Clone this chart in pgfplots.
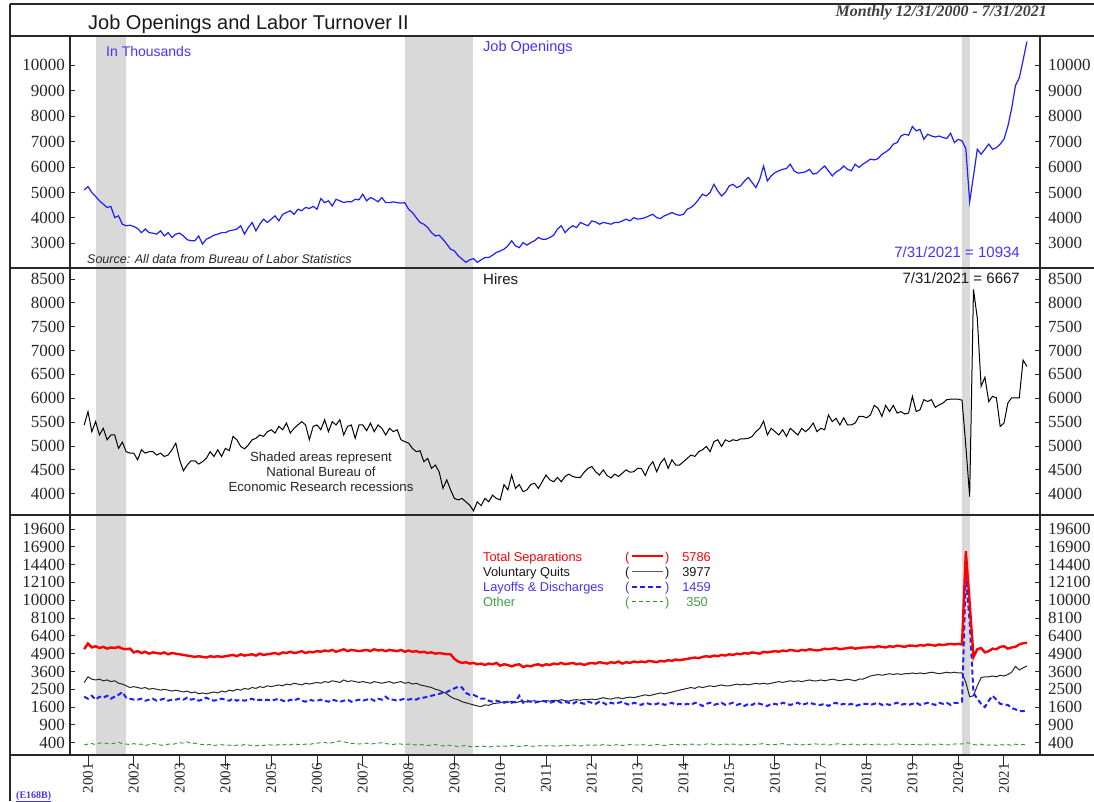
\documentclass[border=0pt]{standalone}
\usepackage{pgfplots}
\pgfplotsset{compat=1.18}
\usepackage{pgfplotstable}
\usepackage{fontspec}
\setmainfont{Liberation Serif}
\newfontfamily\arial{Liberation Sans}
\definecolor{jblue}{RGB}{30,30,255}
\definecolor{tblue}{RGB}{70,50,255}
\definecolor{jgreen}{RGB}{40,150,40}
\definecolor{tgreen}{RGB}{60,160,60}
\definecolor{recgray}{RGB}{217,217,217}
\definecolor{frame}{RGB}{40,40,40}

\pgfplotstableread{
yr mo jo hi ts qu ld ot
2000 12 5100 5440 5260 2890 2100 350
2001 1 5230 5720 5730 3250 2000 370
2001 2 5000 5300 5400 3100 2150 380
2001 3 4840 5510 5500 3050 1950 360
2001 4 4670 5230 5350 3100 2100 390
2001 5 4540 5370 5450 3000 2050 400
2001 6 4410 5130 5300 3050 2150 380
2001 7 4450 5230 5400 2950 2000 370
2001 8 4010 5230 5350 3000 2100 390
2001 9 4080 4950 5450 2850 2200 410
2001 10 3750 5080 5300 2800 2350 380
2001 11 3690 4880 5250 2700 2050 370
2001 12 3710 4850 5300 2600 2000 360
2002 1 3660 4850 5000 2650 1950 380
2002 2 3580 4710 5100 2600 1950 360
2002 3 3420 4920 4950 2550 2000 370
2002 4 3560 4850 5050 2600 1900 340
2002 5 3420 4880 4900 2500 1950 360
2002 6 3400 4880 5000 2550 2000 380
2002 7 3360 4810 4950 2500 1900 370
2002 8 3490 4850 4900 2450 1950 350
2002 9 3290 4780 5000 2500 2000 340
2002 10 3420 4810 4850 2450 1900 370
2002 11 3230 4920 4950 2400 1950 360
2002 12 3360 5060 4900 2450 1950 380
2003 1 3400 4710 4850 2400 2000 400
2003 2 3290 4480 4800 2350 1950 390
2003 3 3140 4600 4750 2400 2050 420
2003 4 3100 4690 4700 2300 1950 380
2003 5 3100 4690 4650 2350 2000 390
2003 6 3290 4620 4700 2250 1900 370
2003 7 2970 4670 4650 2300 1950 360
2003 8 3160 4740 4600 2250 2050 350
2003 9 3230 4880 4700 2300 1950 360
2003 10 3320 4780 4650 2350 1900 340
2003 11 3360 4920 4700 2300 1950 350
2003 12 3420 4780 4650 2400 2000 360
2004 1 3420 4950 4700 2350 1950 340
2004 2 3490 4900 4750 2450 1900 350
2004 3 3520 5200 4800 2400 2000 330
2004 4 3560 5130 4700 2500 1900 350
2004 5 3690 4990 4850 2450 1950 340
2004 6 3360 4940 4750 2550 1900 360
2004 7 3620 5020 4800 2500 1950 350
2004 8 3820 5130 4850 2600 2000 340
2004 9 3490 5160 4750 2550 1900 330
2004 10 3750 5230 4900 2650 1950 350
2004 11 3950 5200 4800 2600 1900 340
2004 12 3820 5300 4850 2700 1950 360
2005 1 3950 5340 4900 2650 1900 350
2005 2 4080 5270 4950 2700 1950 340
2005 3 3880 5410 4850 2750 2000 360
2005 4 4140 5340 5000 2700 1900 350
2005 5 4210 5480 4950 2800 1850 370
2005 6 4280 5270 5050 2750 1950 350
2005 7 4140 5370 4950 2850 1900 380
2005 8 4340 5440 5000 2800 2000 360
2005 9 4280 5510 5100 2750 1900 350
2005 10 4410 5440 4950 2850 1850 370
2005 11 4370 5130 5050 2800 1950 360
2005 12 4450 5410 5000 2850 1900 380
2006 1 4340 5440 5100 2900 1900 390
2006 2 4760 5340 5050 2850 1950 400
2006 3 4600 5550 5150 2950 1900 410
2006 4 4670 5300 5100 2900 1850 380
2006 5 4470 5510 5200 3000 1950 400
2006 6 4730 5440 5050 2950 1900 420
2006 7 4670 5550 5150 2900 1850 440
2006 8 4600 5230 5250 3050 1900 420
2006 9 4640 5410 5100 2950 1950 400
2006 10 4630 5440 5200 3000 1850 380
2006 11 4730 5160 5150 2950 1900 390
2006 12 4710 5440 5100 2900 1950 370
2007 1 4930 5440 5150 2950 1900 380
2007 2 4670 5320 5200 2900 1950 390
2007 3 4800 5480 5100 2850 2000 370
2007 4 4730 5300 5250 2950 1900 380
2007 5 4630 5440 5150 2900 2000 390
2007 6 4800 5370 5200 2850 1950 400
2007 7 4600 5230 5100 2900 2100 380
2007 8 4600 5370 5200 2950 1950 370
2007 9 4630 5300 5150 2850 1950 360
2007 10 4600 5340 5100 2900 1900 380
2007 11 4580 5130 5200 2950 1950 370
2007 12 4600 5090 5050 2850 2000 360
2008 1 4340 5060 5150 2900 1950 370
2008 2 4210 4950 5050 2800 2000 360
2008 3 4010 4880 5100 2850 1950 350
2008 4 3820 4900 5000 2750 2050 360
2008 5 3750 4670 5050 2700 2050 350
2008 6 3620 4740 4950 2650 2100 340
2008 7 3420 4530 5000 2600 2150 350
2008 8 3290 4600 4900 2500 2200 360
2008 9 3320 4460 4950 2450 2250 340
2008 10 3160 4110 4900 2350 2300 330
2008 11 2970 4290 4850 2250 2350 350
2008 12 2770 4080 4850 2100 2450 340
2009 1 2700 3900 4500 2000 2550 330
2009 2 2510 3870 4300 1950 2650 320
2009 3 2380 3900 4200 1850 2600 330
2009 4 2250 3830 4250 1800 2300 340
2009 5 2350 3760 4150 1750 2200 320
2009 6 2400 3640 4200 1700 2200 310
2009 7 2250 3830 4100 1650 2100 320
2009 8 2350 3750 4150 1620 2000 330
2009 9 2440 3900 4050 1700 2000 320
2009 10 2440 3830 4150 1680 1900 310
2009 11 2530 3970 4100 1750 1850 320
2009 12 2640 3900 4200 1780 1900 330
2010 1 2700 3870 4000 1800 1850 320
2010 2 2770 4190 4100 1850 1800 330
2010 3 2900 4080 4050 1820 1850 320
2010 4 3100 4390 3950 1870 1800 340
2010 5 2900 4110 4050 1800 1850 330
2010 6 2830 4190 4100 1850 2150 320
2010 7 3030 4040 3900 1880 1800 330
2010 8 2930 4080 4000 1830 1900 340
2010 9 3030 4190 3950 1870 1850 330
2010 10 3100 4220 4050 1900 1800 320
2010 11 3230 4110 4100 1850 1850 330
2010 12 3160 4250 4000 1880 1900 340
2011 1 3160 4390 4100 1900 1850 330
2011 2 3230 4290 4050 1880 1800 340
2011 3 3320 4250 4150 1920 1850 330
2011 4 3560 4340 4100 1900 1900 320
2011 5 3690 4250 4200 1950 1800 340
2011 6 3420 4360 4100 1900 1850 330
2011 7 3580 4410 4150 1880 1800 340
2011 8 3690 4360 4200 1930 1750 350
2011 9 3620 4340 4100 1950 1850 340
2011 10 3820 4340 4150 1920 1800 330
2011 11 3750 4450 4050 1970 1750 340
2011 12 3690 4530 4150 1950 1850 350
2012 1 3880 4570 4200 1980 1800 340
2012 2 3840 4460 4150 1950 1750 350
2012 3 3750 4390 4250 2000 1850 340
2012 4 3820 4500 4200 2050 1800 360
2012 5 3790 4380 4150 2000 1700 350
2012 6 3750 4330 4250 1980 1800 340
2012 7 3820 4410 4200 2030 1750 350
2012 8 3820 4360 4300 2050 1800 360
2012 9 3880 4430 4150 2000 1850 340
2012 10 3950 4500 4250 2050 1750 350
2012 11 3880 4450 4200 2080 1700 360
2012 12 4010 4460 4300 2050 1800 350
2013 1 3950 4530 4250 2100 1750 350
2013 2 3970 4530 4300 2150 1700 360
2013 3 4010 4380 4250 2200 1800 350
2013 4 4080 4570 4350 2150 1750 340
2013 5 4140 4670 4300 2200 1700 350
2013 6 4010 4460 4250 2250 1750 360
2013 7 3970 4640 4350 2300 1800 350
2013 8 4080 4740 4300 2250 1700 340
2013 9 4140 4530 4400 2300 1750 350
2013 10 4210 4710 4350 2350 1800 360
2013 11 4140 4600 4450 2400 1700 370
2013 12 4100 4600 4400 2450 1750 350
2014 1 4140 4670 4450 2500 1700 360
2014 2 4340 4740 4500 2550 1750 350
2014 3 4410 4810 4550 2600 1700 370
2014 4 4540 4780 4600 2550 1800 360
2014 5 4730 4880 4550 2650 1750 350
2014 6 4930 4920 4650 2600 1650 360
2014 7 4860 4990 4700 2650 1750 370
2014 8 5000 4880 4650 2700 1800 380
2014 9 5320 5090 4750 2650 1700 360
2014 10 5060 5130 4700 2700 1750 350
2014 11 4860 4990 4800 2750 1800 360
2014 12 5000 5130 4750 2700 1700 370
2015 1 5260 5090 4850 2700 1750 360
2015 2 5320 5130 4800 2750 1800 370
2015 3 5190 5110 4900 2800 1700 360
2015 4 5260 5150 4850 2750 1750 350
2015 5 5450 5150 4950 2800 1650 370
2015 6 5590 5160 4900 2750 1750 360
2015 7 5390 5200 5000 2800 1700 350
2015 8 5190 5300 4950 2850 1800 360
2015 9 5520 5370 4900 2800 1750 370
2015 10 6040 5520 5050 2850 1700 380
2015 11 5450 5230 5000 2800 1650 360
2015 12 5650 5370 5050 2850 1750 350
2016 1 5780 5300 5100 2900 1750 360
2016 2 5850 5230 5050 2950 1700 370
2016 3 5910 5340 5150 2900 1800 380
2016 4 5940 5200 5100 2950 1750 360
2016 5 6110 5370 5200 3000 1700 350
2016 6 5850 5300 5150 2950 1750 370
2016 7 5760 5230 5100 3000 1800 360
2016 8 5780 5370 5200 2950 1700 350
2016 9 5810 5300 5150 3000 1750 370
2016 10 5910 5370 5250 3050 1800 360
2016 11 5720 5480 5200 3000 1750 380
2016 12 5760 5300 5150 3000 1700 370
2017 1 5910 5370 5200 3050 1700 360
2017 2 6040 5340 5300 3000 1750 370
2017 3 5850 5650 5250 3050 1650 350
2017 4 5650 5510 5300 3100 1750 360
2017 5 5810 5580 5350 3050 1800 370
2017 6 5890 5440 5250 3000 1700 380
2017 7 6040 5590 5300 3050 1750 360
2017 8 5910 5440 5350 3100 1700 350
2017 9 5850 5440 5400 3050 1750 370
2017 10 6110 5480 5300 3000 1650 360
2017 11 5980 5620 5350 3100 1700 350
2017 12 6110 5620 5400 3100 1750 360
2018 1 6200 5590 5400 3200 1750 370
2018 2 6310 5650 5450 3300 1700 360
2018 3 6280 5850 5400 3350 1750 350
2018 4 6330 5790 5500 3400 1800 370
2018 5 6500 5620 5450 3350 1700 360
2018 6 6590 5850 5400 3400 1750 350
2018 7 6700 5720 5500 3450 1700 360
2018 8 6900 5850 5450 3400 1750 370
2018 9 6960 5690 5550 3450 1800 380
2018 10 7220 5720 5500 3400 1700 360
2018 11 7290 5670 5450 3450 1750 350
2018 12 7250 5690 5550 3450 1700 370
2019 1 7590 6040 5550 3500 1750 360
2019 2 7420 5720 5500 3450 1800 370
2019 3 7480 5760 5600 3500 1700 350
2019 4 7090 5970 5550 3450 1750 360
2019 5 7290 5930 5650 3500 1800 370
2019 6 7220 5970 5600 3550 1750 360
2019 7 7180 5810 5550 3500 1700 350
2019 8 7220 5860 5650 3450 1800 370
2019 9 7160 5900 5600 3500 1750 360
2019 10 7120 5970 5650 3550 1800 350
2019 11 7330 5980 5700 3500 1700 360
2019 12 6960 5980 5650 3550 1800 370
2020 1 7090 5980 5700 3500 1800 380
2020 2 7030 5960 5650 3500 1850 370
2020 3 6720 5000 16250 2900 13150 400
2020 4 4630 3940 9700 2100 7700 390
2020 5 5650 8280 4650 2150 2300 360
2020 6 6700 7680 5250 2700 1990 350
2020 7 6500 6250 5350 3200 1750 370
2020 8 6700 6440 5000 3250 1600 340
2020 9 6900 5930 5100 3250 1900 350
2020 10 6700 6040 5300 3300 2150 360
2020 11 6760 6010 5250 3250 1950 340
2020 12 6900 5410 5450 3350 1750 360
2021 1 7100 5480 5500 3300 1700 350
2021 2 7600 5900 5300 3400 1700 360
2021 3 8300 6010 5400 3550 1560 340
2021 4 9200 6010 5450 3950 1500 370
2021 5 9500 6010 5650 3700 1420 350
2021 6 10200 6800 5750 3850 1420 360
2021 7 10934 6667 5786 3977 1459 350
}\data

\pgfplotsset{
  panel/.style={scale only axis, width=970pt, xmin=2000.607, xmax=2021.786,
    axis line style={draw=none}, tick align=inside, major tick length=5pt,
    xtick=\empty, scaled y ticks=false,
    /pgf/number format/assume math mode=true, /pgf/number format/1000 sep={},
    tick label style={font=\fontsize{17}{17}\selectfont, text=black!85},
    ytick style={line width=0.9pt, frame}, anchor=south west},
  leftax/.style={panel, ytick pos=left, yticklabel pos=left,
    yticklabel style={inner sep=0pt, anchor=east, xshift=-5pt}},
  rightax/.style={panel, ytick pos=right, yticklabel pos=right,
    yticklabel style={inner sep=0pt, anchor=west, xshift=8pt}},
  p1/.style={at={(70pt,533pt)}, height=232pt, ymin=2029, ymax=11152, ytick={3000,4000,...,10000}},
  p2/.style={at={(70pt,286pt)}, height=247pt, ymin=3553, ymax=8730, ytick={4000,4500,...,8500}},
  % panel 3 is drawn on a square-root scale: positions are sqrt(value)
  p3/.style={at={(70pt,46pt)}, height=240pt, ymin=13.09, ymax=147.86,
    ytick={20,30,...,140},
    yticklabels={400,900,1600,2500,3600,4900,6400,8100,10000,12100,14400,16900,19600}},
}

\begin{document}
\begin{tikzpicture}[x=1pt,y=1pt]
\useasboundingbox (0,0) rectangle (1094,801);

% ---------- Panel 1: Job openings
\begin{axis}[leftax, p1]
\fill[recgray] ({axis cs:2001.1667,3000}|-{rel axis cs:0,0}) rectangle ({axis cs:2001.8333,3000}|-{rel axis cs:0,1});
\fill[recgray] ({axis cs:2007.9167,3000}|-{rel axis cs:0,0}) rectangle ({axis cs:2009.4167,3000}|-{rel axis cs:0,1});
\fill[recgray] ({axis cs:2020.0833,3000}|-{rel axis cs:0,0}) rectangle ({axis cs:2020.25,3000}|-{rel axis cs:0,1});
\addplot[jblue, line width=1.2pt] table[x expr=\thisrow{yr}+(\thisrow{mo}-1)/12, y=jo] {\data};
\end{axis}
\begin{axis}[rightax, p1]
\end{axis}

% ---------- Panel 2: Hires
\begin{axis}[leftax, p2]
\fill[recgray] ({axis cs:2001.1667,5000}|-{rel axis cs:0,0}) rectangle ({axis cs:2001.8333,5000}|-{rel axis cs:0,1});
\fill[recgray] ({axis cs:2007.9167,5000}|-{rel axis cs:0,0}) rectangle ({axis cs:2009.4167,5000}|-{rel axis cs:0,1});
\fill[recgray] ({axis cs:2020.0833,5000}|-{rel axis cs:0,0}) rectangle ({axis cs:2020.25,5000}|-{rel axis cs:0,1});
\addplot[black, line width=1pt] table[x expr=\thisrow{yr}+(\thisrow{mo}-1)/12, y=hi] {\data};
\end{axis}
\begin{axis}[rightax, p2]
\end{axis}

% ---------- Panel 3: Separations (square-root scale)
\begin{axis}[leftax, p3]
\fill[recgray] ({axis cs:2001.1667,30}|-{rel axis cs:0,0}) rectangle ({axis cs:2001.8333,30}|-{rel axis cs:0,1});
\fill[recgray] ({axis cs:2007.9167,30}|-{rel axis cs:0,0}) rectangle ({axis cs:2009.4167,30}|-{rel axis cs:0,1});
\fill[recgray] ({axis cs:2020.0833,30}|-{rel axis cs:0,0}) rectangle ({axis cs:2020.25,30}|-{rel axis cs:0,1});
\addplot[jgreen, line width=0.9pt, dash pattern=on 4pt off 3pt] table[x expr=\thisrow{yr}+(\thisrow{mo}-1)/12, y expr=sqrt(\thisrow{ot})] {\data};
\addplot[black!85, line width=1pt] table[x expr=\thisrow{yr}+(\thisrow{mo}-1)/12, y expr=sqrt(\thisrow{qu})] {\data};
\addplot[jblue, line width=2pt, dash pattern=on 5pt off 3pt] table[x expr=\thisrow{yr}+(\thisrow{mo}-1)/12, y expr=sqrt(\thisrow{ld})] {\data};
\addplot[red, line width=2.4pt] table[x expr=\thisrow{yr}+(\thisrow{mo}-1)/12, y expr=sqrt(\thisrow{ts})] {\data};
\end{axis}
\begin{axis}[rightax, p3]
\end{axis}

% ---------- x ticks
\begin{axis}[scale only axis, width=970pt, height=240pt, at={(70pt,46pt)}, anchor=south west,
  xmin=2000.607, xmax=2021.786, ymin=0, ymax=1, hide y axis, axis x line*=bottom,
  axis line style={draw=none}, tick align=outside,
  xtick={2001,2002,...,2021}, minor x tick num=11,
  major tick length=11pt, minor tick length=5pt,
  every tick/.style={line width=0.9pt, frame},
  xticklabel style={font=\fontsize{15}{15}\selectfont, text=black!85, rotate=90, anchor=east, inner sep=0pt, xshift=3pt},
  /pgf/number format/assume math mode=true, /pgf/number format/1000 sep={}]
\end{axis}

% ---------- frame
\begin{scope}[line width=1.4pt, frame]
\draw (10,797) -- (1094,797);
\draw (10,765) -- (1094,765);
\draw (10,533) -- (1094,533);
\draw (10,286) -- (1094,286);
\draw (10,46) -- (1094,46);
\draw (10,0) -- (10,797);
\draw (70,46) -- (70,765);
\draw (1040,46) -- (1040,765);
\end{scope}

% ---------- texts
\node[anchor=base west, font=\arial\fontsize{20}{20}\selectfont, text=black!90, inner sep=0pt] at (88,771) {Job Openings and Labor Turnover II};
\node[anchor=base east, font=\fontsize{16}{16}\selectfont\bfseries\itshape, text=black!75, inner sep=0pt] at (1047,784) {Monthly 12/31/2000 - 7/31/2021};
\node[anchor=base west, font=\arial\fontsize{14}{14}\selectfont, text=tblue, inner sep=0pt] at (106,744) {In Thousands};
\node[anchor=base west, font=\arial\fontsize{14.5}{14.5}\selectfont, text=tblue, inner sep=0pt] at (483,749) {Job Openings};
\node[anchor=base west, font=\arial\fontsize{12.5}{12.5}\selectfont\itshape, text=black!85, inner sep=0pt] at (87,537) {Source: All data from Bureau of Labor Statistics};
\node[anchor=base east, font=\arial\fontsize{15}{15}\selectfont, text=tblue, inner sep=0pt] at (1020,543) {7/31/2021 = 10934};
\node[anchor=base west, font=\arial\fontsize{15}{15}\selectfont, text=black!90, inner sep=0pt] at (483,516) {Hires};
\node[anchor=base east, font=\arial\fontsize{15}{15}\selectfont, text=black!90, inner sep=0pt] at (1020,517) {7/31/2021 = 6667};
\node[anchor=base, font=\arial\fontsize{13.2}{13.2}\selectfont, text=black!85, inner sep=0pt] at (321,339) {Shaded areas represent};
\node[anchor=base, font=\arial\fontsize{13.2}{13.2}\selectfont, text=black!85, inner sep=0pt] at (321,324) {National Bureau of};
\node[anchor=base, font=\arial\fontsize{13.2}{13.2}\selectfont, text=black!85, inner sep=0pt] at (321,309) {Economic Research recessions};

% legend
\begin{scope}[every node/.style={font=\arial\fontsize{12.8}{12.8}\selectfont, inner sep=0pt}]
\node[anchor=base west, text=red] at (483,240) {Total Separations};
\node[anchor=base west, text=red] at (625,240) {(};
\draw[red, line width=2.4pt] (632,245) -- (663,245);
\node[anchor=base west, text=red] at (665,240) {)};
\node[anchor=base east, text=red] at (711,240) {5786};
\node[anchor=base west, text=black!90] at (483,225) {Voluntary Quits};
\node[anchor=base west, text=black!90] at (625,225) {(};
\draw[black!65, line width=1.6pt] (632,229.5) -- (663,229.5);
\node[anchor=base west, text=black!90] at (665,225) {)};
\node[anchor=base east, text=black!90] at (711,225) {3977};
\node[anchor=base west, text=tblue] at (483,210) {Layoffs \& Discharges};
\node[anchor=base west, text=tblue] at (625,210) {(};
\draw[jblue, line width=2pt, dash pattern=on 5pt off 3pt] (632,214.5) -- (663,214.5);
\node[anchor=base west, text=tblue] at (665,210) {)};
\node[anchor=base east, text=tblue] at (711,210) {1459};
\node[anchor=base west, text=tgreen] at (483,195) {Other};
\node[anchor=base west, text=tgreen] at (625,195) {(};
\draw[jgreen, line width=0.9pt, dash pattern=on 4pt off 3pt] (632,199.5) -- (663,199.5);
\node[anchor=base west, text=tgreen] at (665,195) {)};
\node[anchor=base east, text=tgreen] at (708,195) {350};
\end{scope}

\node[anchor=base west, font=\fontsize{10}{10}\selectfont\bfseries, text=tblue, inner sep=0pt] at (16,3) {\underline{(E168B)}};
\end{tikzpicture}
\end{document}
